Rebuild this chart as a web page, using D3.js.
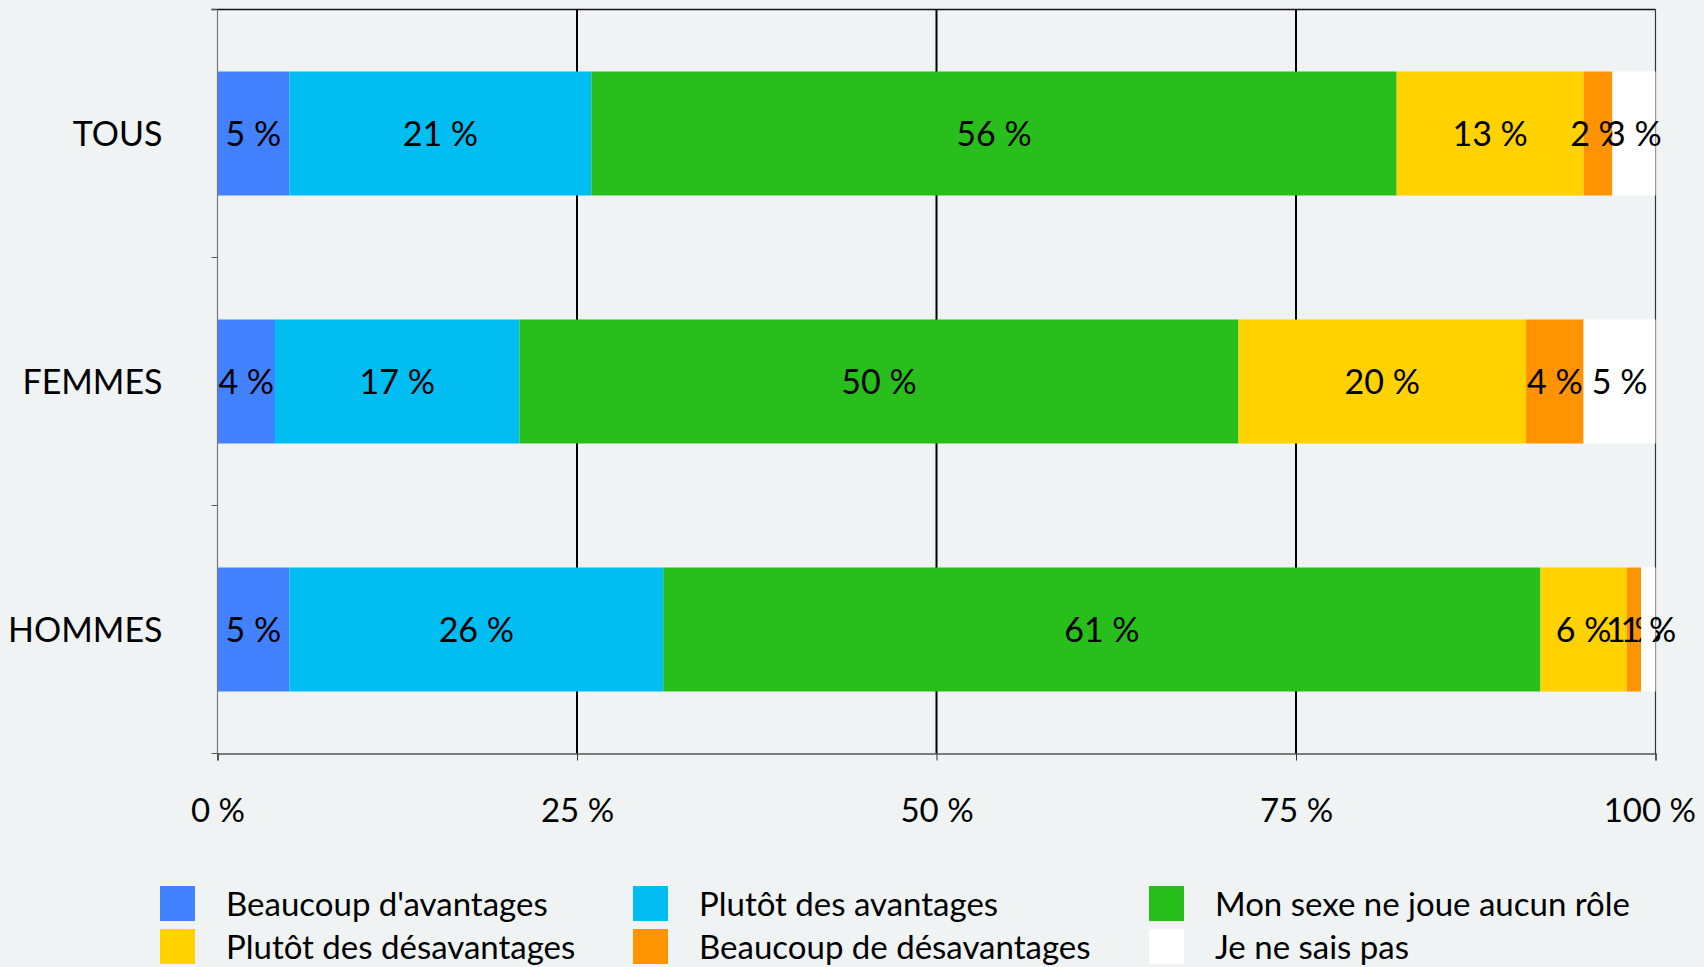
<!DOCTYPE html>
<html>
<head>
<meta charset="utf-8">
<script src="https://cdn.jsdelivr.net/npm/d3@7"></script>
<style>
  body { margin: 0; background: #eff3f4; }
  text { font-family: Lato, "Open Sans", sans-serif; fill: #000; }
</style>
</head>
<body>
<div id="chart"></div>
<script>
// Categories (top to bottom) and answer series
var categories = ["TOUS", "FEMMES", "HOMMES"];
var seriesNames = ["Beaucoup d'avantages", "Plutôt des avantages", "Mon sexe ne joue aucun rôle",
                   "Plutôt des désavantages", "Beaucoup de désavantages", "Je ne sais pas"];
var seriesColors = ["#4281ff", "#00bdf2", "#28be1c", "#ffd200", "#ff9300", "#ffffff"];

// values in %, one array per series, ordered like categories
var beaucoupAvantages   = [5, 4, 5];
var plutotAvantages     = [21, 17, 26];
var aucunRole           = [56, 50, 61];
var plutotDesavantages  = [13, 20, 6];
var beaucoupDesavantages = [2, 4, 1];
var neSaisPas           = [3, 5, 1];

var xTicks = [0, 25, 50, 75, 100];

var seriesValues = [beaucoupAvantages, plutotAvantages, aucunRole,
                    plutotDesavantages, beaucoupDesavantages, neSaisPas];

// build rows for d3.stack
var rows = categories.map(function (c, i) {
  var r = {cat: c};
  seriesNames.forEach(function (s, j) { r[s] = seriesValues[j][i]; });
  return r;
});

var W = 1704, H = 967;
var margin = {top: 9.5, right: 48.5, bottom: 213.5, left: 217.5},
    width = W - margin.left - margin.right,
    height = H - margin.top - margin.bottom;

var svg = d3.select("#chart").append("svg")
    .attr("width", W).attr("height", H);

svg.append("rect").attr("width", W).attr("height", H).attr("fill", "#eff3f4");

var g = svg.append("g")
    .attr("transform", "translate(" + margin.left + "," + margin.top + ")");

var x = d3.scaleLinear().domain([0, 100]).range([0, width]);
var y = d3.scaleBand().domain(categories).range([0, height])
    .paddingInner(0.5).paddingOuter(0.25);

// gridlines behind the bars
g.append("g").attr("class", "grid")
  .selectAll("line")
  .data(xTicks.filter(function (d) { return d > 0 && d < 100; }))
  .enter().append("line")
    .attr("x1", x).attr("x2", x)
    .attr("y1", 0).attr("y2", height)
    .attr("stroke", "#000").attr("stroke-width", 2);

// top border and right border
g.append("line").attr("x1", -6).attr("x2", width).attr("y1", 0).attr("y2", 0)
  .attr("stroke", "#111").attr("stroke-width", 1.5);
g.append("line").attr("x1", width).attr("x2", width).attr("y1", 0).attr("y2", height)
  .attr("stroke", "#333").attr("stroke-width", 1.2);

var stack = d3.stack().keys(seriesNames)(rows);

var layer = g.selectAll(".layer")
    .data(stack)
  .enter().append("g")
    .attr("class", "layer")
    .attr("fill", function (d, i) { return seriesColors[i]; });

layer.selectAll("rect")
    .data(function (d) { return d; })
  .enter().append("rect")
    .attr("x", function (d) { return x(d[0]); })
    .attr("width", function (d) { return x(d[1]) - x(d[0]); })
    .attr("y", function (d) { return y(d.data.cat); })
    .attr("height", y.bandwidth());

layer.selectAll("text")
    .data(function (d) { return d; })
  .enter().append("text")
    .attr("x", function (d) { return (x(d[0]) + x(d[1])) / 2; })
    .attr("y", function (d) { return y(d.data.cat) + y.bandwidth() / 2; })
    .attr("dy", "0.38em")
    .attr("text-anchor", "middle")
    .style("font-size", "34px")
    .text(function (d) { return (d[1] - d[0]) + " %"; });

// left axis: line + ticks at band boundaries
var yBounds = d3.range(categories.length + 1).map(function (i) { return i * y.step(); });
g.append("line").attr("x1", 0).attr("x2", 0).attr("y1", 0).attr("y2", height)
  .attr("stroke", "#777").attr("stroke-width", 1.2);
g.append("g").selectAll("line")
  .data(yBounds)
  .enter().append("line")
    .attr("x1", -6).attr("x2", 0)
    .attr("y1", function (d) { return d; }).attr("y2", function (d) { return d; })
    .attr("stroke", "#555").attr("stroke-width", 1);

g.append("g").selectAll("text")
  .data(categories)
  .enter().append("text")
    .attr("x", -55)
    .attr("y", function (d) { return y(d) + y.bandwidth() / 2; })
    .attr("dy", "0.38em")
    .attr("text-anchor", "end")
    .style("font-size", "34px")
    .text(function (d) { return d; });

// bottom axis
var xAxis = d3.axisBottom(x)
    .tickValues(xTicks)
    .tickFormat(function (d) { return d + " %"; })
    .tickSize(7)
    .tickPadding(38);

var xa = g.append("g")
    .attr("transform", "translate(0," + height + ")")
    .call(xAxis);
xa.select(".domain").attr("stroke", "#555").attr("stroke-width", 1.5);
xa.selectAll(".tick line").attr("stroke", "#333");
xa.selectAll(".tick text")
    .style("font-size", "33px")
    .style("font-family", "Lato, 'Open Sans', sans-serif")
    .attr("fill", "#000");
// keep the last label inside the page, like the reference
xa.selectAll(".tick text").filter(function (d) { return d === 100; })
    .attr("text-anchor", "end").attr("dx", "40px");

// legend, 3 columns x 2 rows
var legendX = [160, 633, 1149], legendY = [886, 929];
var legend = svg.append("g").selectAll("g")
    .data(seriesNames)
  .enter().append("g")
    .attr("transform", function (d, i) {
      return "translate(" + legendX[i % 3] + "," + legendY[Math.floor(i / 3)] + ")";
    });

legend.append("rect")
    .attr("width", 35).attr("height", 35)
    .attr("fill", function (d, i) { return seriesColors[i]; });

legend.append("text")
    .attr("x", 66)
    .attr("y", 18)
    .attr("dy", "0.36em")
    .style("font-size", "33px")
    .text(function (d) { return d; });
</script>
</body>
</html>
